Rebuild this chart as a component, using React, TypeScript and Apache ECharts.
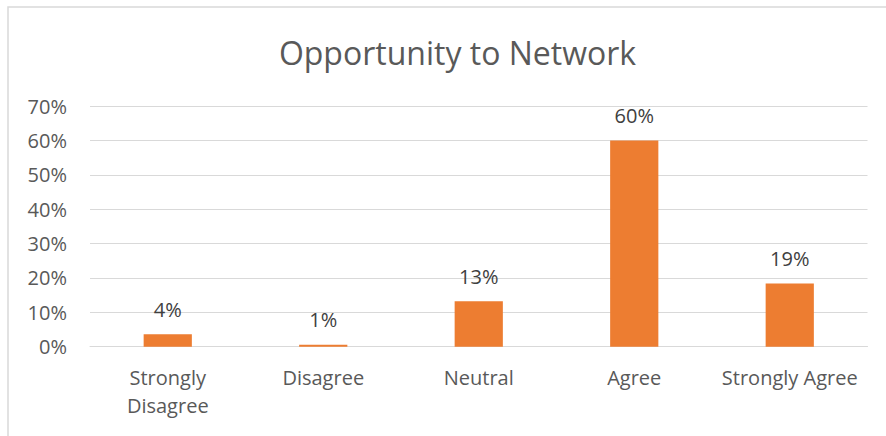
import React, { useEffect, useRef } from "react";
import * as echarts from "echarts";

const categories = ["Strongly\nDisagree", "Disagree", "Neutral", "Agree", "Strongly Agree"];
const values = [0.036, 0.006, 0.132, 0.6, 0.184];
const valueLabels = ["4%", "1%", "13%", "60%", "19%"];
const titleText = "Opportunity to Network";

export default function App() {
  const ref = useRef<HTMLDivElement>(null);
  useEffect(() => {
    const chart = echarts.init(ref.current!, null, { renderer: "svg" });
    const font = "'Open Sans', sans-serif";
    chart.setOption({
      animation: false,
      backgroundColor: "#ffffff",
      title: {
        text: titleText,
        left: 452.5,
        top: 31,
        textAlign: "center",
        textStyle: { fontFamily: font, fontSize: 32, fontWeight: "normal", color: "#595959" },
      },
      graphic: [
        {
          type: "rect",
          shape: { x: 8, y: 7, width: 900, height: 460 },
          style: { fill: "none", stroke: "#d9d9d9", lineWidth: 1.5 },
          silent: true,
        },
      ],
      grid: { left: 90, right: 18.5, top: 106, bottom: 89.3 },
      xAxis: {
        type: "category",
        data: categories,
        axisLine: { show: true, lineStyle: { color: "#d9d9d9", width: 1 } },
        axisTick: { show: false },
        axisLabel: {
          fontFamily: font,
          fontSize: 20,
          color: "#595959",
          margin: 17,
          lineHeight: 28,
          interval: 0,
        },
      },
      yAxis: {
        type: "value",
        min: 0,
        max: 0.7,
        interval: 0.1,
        axisLine: { show: false },
        axisTick: { show: false },
        splitLine: { lineStyle: { color: "#d9d9d9", width: 1 } },
        axisLabel: {
          fontFamily: font,
          fontSize: 20,
          color: "#595959",
          margin: 23,
          formatter: (v: number) => Math.round(v * 100) + "%",
        },
      },
      series: [
        {
          type: "bar",
          data: values,
          barWidth: "31%",
          itemStyle: { color: "#ED7D31" },
          label: {
            show: true,
            position: "top",
            distance: 15,
            fontFamily: font,
            fontSize: 20,
            color: "#404040",
            formatter: (p: any) => valueLabels[p.dataIndex],
          },
        },
      ],
    });
    return () => chart.dispose();
  }, []);
  return (
    <div style={{ position: "fixed", left: 0, top: 0, width: 886, height: 436 }}>
      <div ref={ref} style={{ width: 886, height: 436 }} />
    </div>
  );
}
